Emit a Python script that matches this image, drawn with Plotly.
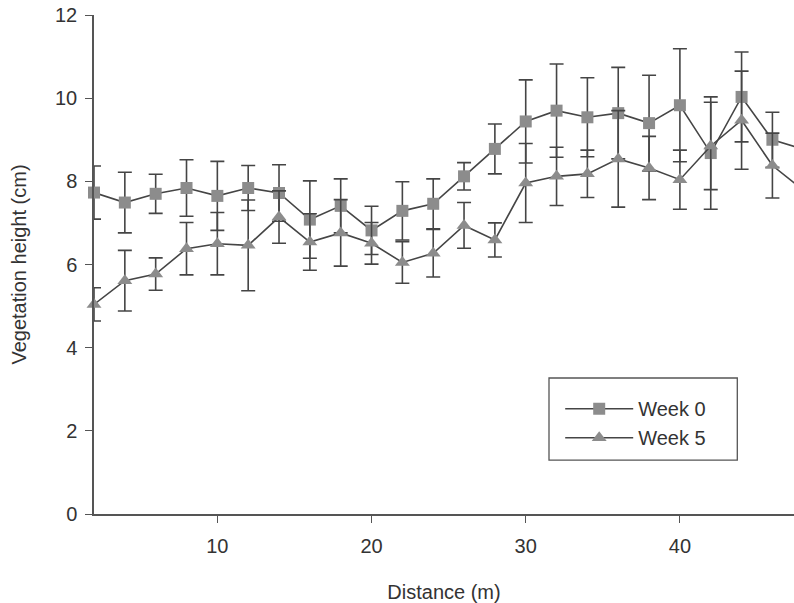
import plotly.graph_objects as go

distance = [2, 4, 6, 8, 10, 12, 14, 16, 18, 20, 22, 24, 26, 28, 30, 32, 34, 36, 38, 40, 42, 44, 46, 48]
week0 = [7.73, 7.49, 7.70, 7.84, 7.65, 7.84, 7.72, 7.08, 7.41, 6.82, 7.29, 7.46,
         8.12, 8.78, 9.44, 9.70, 9.54, 9.64, 9.40, 9.83, 8.68, 10.03, 9.00, 8.77]
week0_err = [0.64, 0.73, 0.47, 0.68, 0.83, 0.54, 0.68, 0.93, 0.65, 0.58, 0.70, 0.60,
             0.33, 0.60, 1.00, 1.12, 0.95, 1.10, 1.15, 1.36, 1.35, 1.08, 0.66, 0.70]
week5 = [5.04, 5.61, 5.77, 6.38, 6.50, 6.46, 7.14, 6.54, 6.76, 6.51, 6.05, 6.27,
         6.94, 6.59, 7.96, 8.12, 8.18, 8.54, 8.32, 8.04, 8.85, 9.47, 8.38, 7.79]
week5_err = [0.40, 0.73, 0.39, 0.63, 0.75, 1.09, 0.63, 0.68, 0.80, 0.50, 0.50, 0.57,
             0.55, 0.41, 0.95, 0.70, 0.57, 1.16, 0.76, 0.71, 1.05, 1.18, 0.78, 0.80]
x_ticks = [10, 20, 30, 40]
y_ticks = [0, 2, 4, 6, 8, 10, 12]

FONT = "Liberation Sans, Arial, sans-serif"
LINE = "#454545"
MARK = "#8c8c8c"
TEXT = "#333333"
AXIS = "#555555"

fig = go.Figure()
fig.add_trace(go.Scatter(
    x=distance, y=week0, name="Week 0", mode="lines+markers",
    line=dict(color=LINE, width=1.6),
    marker=dict(symbol="square", size=12, color=MARK),
    error_y=dict(type="data", array=week0_err, color=LINE, thickness=1.6, width=7),
    cliponaxis=False,
))
fig.add_trace(go.Scatter(
    x=distance, y=week5, name="Week 5", mode="lines+markers",
    line=dict(color=LINE, width=1.6),
    marker=dict(symbol="triangle-up", size=13, color=MARK),
    error_y=dict(type="data", array=week5_err, color=LINE, thickness=1.6, width=7),
    cliponaxis=False,
))

fig.add_shape(type="rect", xref="paper", yref="paper",
              x0=0.65, x1=0.919, y0=0.108, y1=0.2725,
              line=dict(color=AXIS, width=1.3), fillcolor="rgba(0,0,0,0)")

fig.update_layout(
    width=794, height=603,
    margin=dict(l=94, r=0, t=15, b=89, pad=0),
    paper_bgcolor="white", plot_bgcolor="white",
    font=dict(family=FONT, size=20, color=TEXT),
    showlegend=True,
    legend=dict(x=0.666, y=0.182, xanchor="left", yanchor="middle",
                bgcolor="rgba(0,0,0,0)", borderwidth=0,
                font=dict(family=FONT, size=20, color=TEXT),
                tracegroupgap=0, itemwidth=68),
    xaxis=dict(range=[2, 47.4], tickvals=x_ticks, ticks="outside", ticklen=7,
               tickwidth=1.3, tickcolor=AXIS, showline=True, linecolor=AXIS,
               linewidth=1.5, showgrid=False, zeroline=False, automargin=False,
               ticklabelstandoff=6,
               title=dict(text="Distance (m)", standoff=33,
                          font=dict(family=FONT, size=20, color=TEXT)),
               tickfont=dict(family=FONT, size=20, color=TEXT)),
    yaxis=dict(range=[0, 12], tickvals=y_ticks, ticks="outside", ticklen=7,
               tickwidth=1.3, tickcolor=AXIS, showline=True, linecolor=AXIS,
               linewidth=1.5, showgrid=False, zeroline=False, automargin=False,
               ticklabelstandoff=4, ticklabeloverflow="allow",
               title=dict(text="Vegetation height (cm)", standoff=23,
                          font=dict(family=FONT, size=20, color=TEXT)),
               tickfont=dict(family=FONT, size=20, color=TEXT)),
)

# remove the default page margin so the figure fills the 794x603 window exactly
fig.write_html("out.html", config={"displayModeBar": False},
               post_script="document.body.style.margin='0';")
